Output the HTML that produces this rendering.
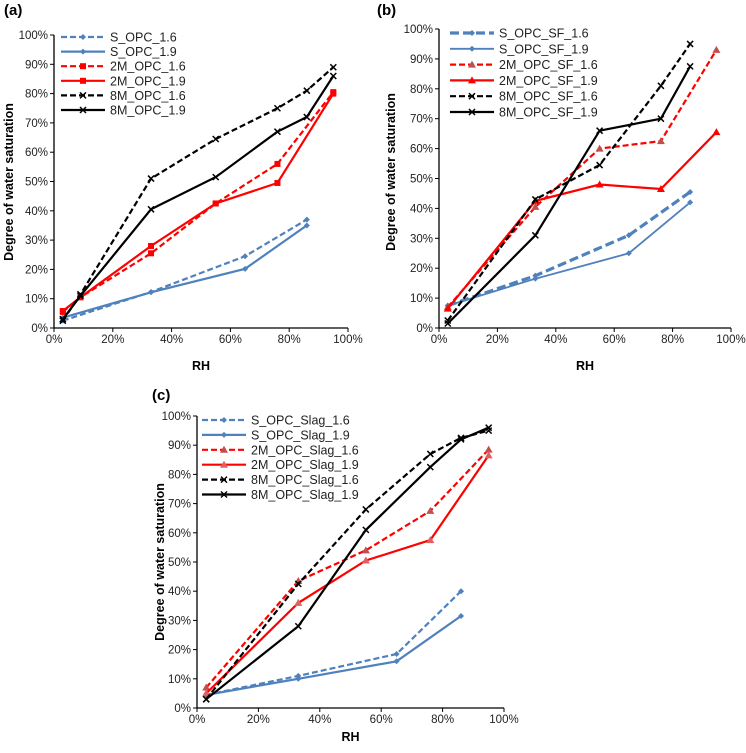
<!DOCTYPE html>
<html><head><meta charset="utf-8"><style>
body{margin:0;background:#fff;}
svg text{font-family:"Liberation Sans",sans-serif;}
</style></head><body>
<svg id="fig" width="746" height="748" viewBox="0 0 746 748" xmlns="http://www.w3.org/2000/svg"></svg>
<script>
// Panel (a)
const aSx=[3,33,65,86];
const aS16=[2.5,12.3,24.5,37];
const aS19=[3.5,12.2,20.2,35];
const a2Mx=[3,9,33,55,76,95];
const a2M16=[5.5,10.5,25.5,42.5,56,80.5];
const a2M19=[5.8,10.5,28,42.5,49.5,80];
const a8Mx=[3,9,33,55,76,86,95];
const a8M16=[2.5,11.5,51,64.5,75,81,89];
const a8M19=[3,11,40.5,51.5,67,72,86];
// Panel (b)
const bSx=[3,33,65,86];
const bS16=[7.5,17.5,31,45.5];
const bS19=[7.5,16.5,25,42];
const b2Mx=[3,33,55,76,95];
const b2M16=[7,40.5,60,62.5,93];
const b2M19=[6.5,42.5,48,46.5,65.5];
const b8Mx=[3,33,55,76,86];
const b8M16=[2.5,43,54.5,81,95];
const b8M19=[1.5,31,66,70,87.5];
// Panel (c)
const cSx=[3,33,65,86];
const cS16=[4.5,11,18.5,40];
const cS19=[4.5,10,16,31.5];
const c2Mx=[3,33,55,76,95];
const c2M16=[7,43.5,54,67.5,88.5];
const c2M19=[5,36,50.5,57.5,86.5];
const c8Mx=[3,33,55,76,86,95];
const c8M16=[3,42.5,68,87,92.5,95];
const c8M19=[3,28,61,82.5,92,96];
const yTicks=[0,10,20,30,40,50,60,70,80,90,100];
const xTicks=[0,20,40,60,80,100];
const aNames=["S_OPC_1.6","S_OPC_1.9","2M_OPC_1.6","2M_OPC_1.9","8M_OPC_1.6","8M_OPC_1.9"];
const bNames=["S_OPC_SF_1.6","S_OPC_SF_1.9","2M_OPC_SF_1.6","2M_OPC_SF_1.9","8M_OPC_SF_1.6","8M_OPC_SF_1.9"];
const cNames=["S_OPC_Slag_1.6","S_OPC_Slag_1.9","2M_OPC_Slag_1.6","2M_OPC_Slag_1.9","8M_OPC_Slag_1.6","8M_OPC_Slag_1.9"];

const NS="http://www.w3.org/2000/svg";
const svg=document.getElementById('fig');
function mk(tag,attrs,parent,text){const e=document.createElementNS(NS,tag);for(const k in attrs)e.setAttribute(k,attrs[k]);if(text!==undefined)e.textContent=text;(parent||svg).appendChild(e);return e;}

function marker(g,type,x,y,col){
  let m;
  if(type==='diamond'){m=mk('path',{d:`M${x} ${y-3}L${x+3} ${y}L${x} ${y+3}L${x-3} ${y}Z`,fill:col},g);}
  else if(type==='square'){m=mk('rect',{x:x-3,y:y-3,width:6,height:6,fill:col},g);}
  else if(type==='tri'){m=mk('path',{d:`M${x} ${y-4}L${x+4} ${y+3}L${x-4} ${y+3}Z`,fill:col},g);}
  else {m=mk('path',{d:`M${x-3} ${y-3}L${x+3} ${y+3}M${x+3} ${y-3}L${x-3} ${y+3}`,stroke:col,'stroke-width':1.5,fill:'none'},g);}
  
  
}

function panel(id,P,series,names,leg,label){
  const g=mk('g',{});
  
  
  const X=v=>P.x0+(P.x1-P.x0)*v/100;
  const Y=v=>P.y0-(P.y0-P.y1)*v/100;
  const ax=mk('path',{d:`M${P.x0} ${P.y1}V${P.y0}H${P.x1}`,stroke:'#000','stroke-width':1.3,fill:'none'},g);
  
  
  yTicks.forEach(t=>{
    mk('line',{x1:P.x0-4,x2:P.x0,y1:Y(t),y2:Y(t),stroke:'#000','stroke-width':1},g);
    const tl=mk('text',{x:P.x0-6,y:Y(t)+4,'text-anchor':'end','font-size':11.5,fill:'#222'},g,t+'%');
    
    
  });
  xTicks.forEach(t=>{
    mk('line',{x1:X(t),x2:X(t),y1:P.y0,y2:P.y0+4,stroke:'#000','stroke-width':1},g);
    const tl=mk('text',{x:X(t),y:P.y0+15,'text-anchor':'middle','font-size':11.5,fill:'#222'},g,t+'%');
    
    
  });
  const xt=mk('text',{x:(P.x0+P.x1)/2,y:P.rhY,'text-anchor':'middle','font-size':12.5,'font-weight':'bold'},g,'RH');
  
  
  const yt=mk('text',{x:0,y:0,transform:`translate(${P.ytX},${P.ytY}) rotate(-90)`,'text-anchor':'middle','font-size':12.5,'font-weight':'bold'},g,'Degree of water saturation');
  
  
  const pl=mk('text',{x:label[0],y:label[1],'font-size':15,'font-weight':'bold','font-family':'Liberation Serif, serif'},g,label[2]);
  
  
  series.forEach((s,i)=>{
    const d=s.xs.map((x,j)=>(j?'L':'M')+X(x).toFixed(1)+' '+Y(s.ys[j]).toFixed(1)).join('');
    const ln=mk('path',{d,stroke:s.col,'stroke-width':s.w||2.2,fill:'none','stroke-dasharray':s.dash||'none'},g);
    
    
    s.xs.forEach((x,j)=>marker(g,s.m,X(x),Y(s.ys[j]),s.mc||s.col));
    const ly=leg.y+i*leg.dy;
    const le=mk('g',{},g);
    
    
    mk('line',{x1:leg.x,x2:leg.x+44,y1:ly,y2:ly,stroke:s.col,'stroke-width':s.w||2.2,'stroke-dasharray':s.dash||'none'},le);
    marker(le,s.m,leg.x+22,ly,s.mc||s.col);
    mk('text',{x:leg.x+49,y:ly+4.5,'font-size':12.5,fill:'#222'},le,names[i]);
  });
}
const blue='#4f81bd',red='#ff0000',blk='#000';
panel('a',{x0:54,x1:348,y1:35,y0:328,rhY:370,ytX:13,ytY:182},[
 {xs:aSx,ys:aS16,col:blue,dash:'6 3',m:'diamond'},
 {xs:aSx,ys:aS19,col:blue,m:'diamond'},
 {xs:a2Mx,ys:a2M16,col:red,dash:'6 3',m:'square'},
 {xs:a2Mx,ys:a2M19,col:red,m:'square'},
 {xs:a8Mx,ys:a8M16,col:blk,dash:'6 3',m:'x'},
 {xs:a8Mx,ys:a8M19,col:blk,m:'x'}],aNames,{x:61,y:37,dy:14.6},[4,15,'(a)']);
panel('b',{x0:439,x1:731,y1:29,y0:328,rhY:370,ytX:395,ytY:172},[
 {xs:bSx,ys:bS16,col:blue,dash:'9 4',m:'diamond',w:3.2},
 {xs:bSx,ys:bS19,col:blue,m:'diamond',w:1.8},
 {xs:b2Mx,ys:b2M16,col:red,dash:'6 3',m:'tri',mc:'#c0504d'},
 {xs:b2Mx,ys:b2M19,col:red,m:'tri'},
 {xs:b8Mx,ys:b8M16,col:blk,dash:'6 3',m:'x'},
 {xs:b8Mx,ys:b8M19,col:blk,m:'x'}],bNames,{x:450,y:33,dy:15.8},[377,15,'(b)']);
panel('c',{x0:197,x1:504,y1:416,y0:708,rhY:741,ytX:164,ytY:562},[
 {xs:cSx,ys:cS16,col:blue,dash:'6 3',m:'diamond'},
 {xs:cSx,ys:cS19,col:blue,m:'diamond'},
 {xs:c2Mx,ys:c2M16,col:red,dash:'6 3',m:'tri',mc:'#c0504d'},
 {xs:c2Mx,ys:c2M19,col:red,m:'tri',mc:'#e06060'},
 {xs:c8Mx,ys:c8M16,col:blk,dash:'6 3',m:'x'},
 {xs:c8Mx,ys:c8M19,col:blk,m:'x'}],cNames,{x:202,y:420,dy:14.9},[152,400,'(c)']);
</script>
</body></html>
